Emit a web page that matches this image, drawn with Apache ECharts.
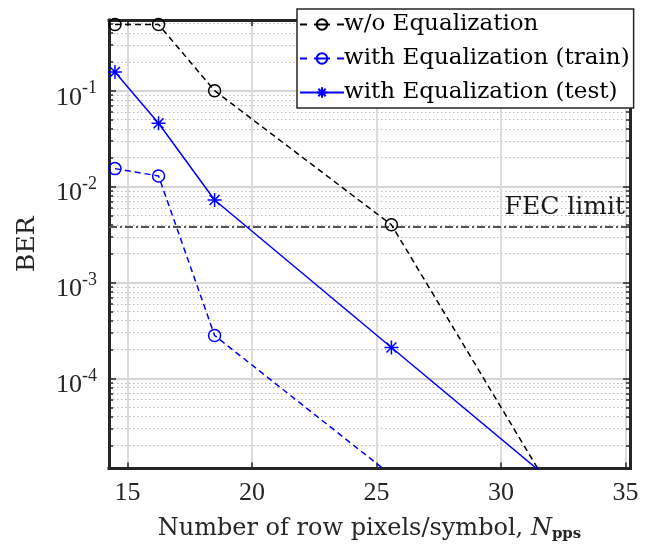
<!DOCTYPE html>
<html><head><meta charset="utf-8">
<script src="https://cdn.jsdelivr.net/npm/echarts@6/dist/echarts.min.js"></script>
<style>html,body{margin:0;padding:0;background:#fff}#c{width:647px;height:545px}</style>
</head><body><div id="c"></div>
<script>
// ---- data ----
const xValues = [14.5, 16.25, 18.5, 25.6, 32.7];
const berNoEq = [0.49, 0.49, 0.1, 0.004, 3.4e-6];
const berEqTrain = [0.0154, 0.0129, 2.8e-4, 9.8e-6, null];
const berEqTest = [0.157, 0.0457, 0.00725, 2.1e-4, 6.1e-6];
const fecLimit = 3.8e-3;
const fecLabel = 'FEC limit';
const seriesNames = ['w/o Equalization', 'with Equalization (train)', 'with Equalization (test)'];
const xTicks = [15, 20, 25, 30, 35];
const yMajorTicks = [1e-4, 1e-3, 1e-2, 1e-1];
const yMinorTicks = [];
for (let d = -5; d <= -1; d++) for (let k = 2; k <= 9; k++) {
  const v = k * Math.pow(10, d);
  if (v > 1.15e-5 && v < 0.546) yMinorTicks.push(v);
}
const xRange = [14.26, 35.18];
const yRange = [1.15e-5, 0.546];

const serif = 'Liberation Serif';
const wordFont = 'DejaVu Serif';
const txt = '#262626';
const pairs = arr => xValues.map((x, i) => [x, arr[i]]);
const star = 'path://M0,-10L0,10M-10,0L10,0M-7.07,-7.07L7.07,7.07M-7.07,7.07L7.07,-7.07';

function yAxisCfg(pos, ticks, len, showLabel, split) {
  return {
    type: 'log', position: pos, min: yRange[0], max: yRange[1], logBase: 10,
    axisLine: { show: false },
    axisTick: { show: true, inside: true, length: len, customValues: ticks, lineStyle: { color: txt, width: 1.5 } },
    axisLabel: showLabel ? {
      show: true, customValues: yMajorTicks, margin: 12, color: txt, fontFamily: serif, fontSize: 26,
      padding: [14, 0, 0, 0],
      formatter: v => '10{s|' + Math.round(Math.log10(v)) + '}',
      rich: { s: { fontSize: 18, fontFamily: serif, color: txt, padding: [0, 0, 18, 0] } }
    } : { show: false },
    splitLine: split || { show: false },
    minorTick: { show: false }
  };
}

const chart = echarts.init(document.getElementById('c'), null, { renderer: 'canvas' });
chart.setOption({
  animation: false,
  backgroundColor: '#fff',
  grid: { left: 109, right: 17, top: 20, bottom: 76.5, containLabel: false, outerBoundsMode: 'none' },
  xAxis: [
    {
      type: 'value', position: 'bottom', min: xRange[0], max: xRange[1],
      axisLine: { show: true, lineStyle: { color: txt, width: 3, cap: 'square' } },
      axisTick: { show: true, inside: true, length: 6, customValues: xTicks, lineStyle: { color: txt, width: 1.5 } },
      axisLabel: { customValues: xTicks, margin: 12, color: txt, fontFamily: serif, fontSize: 26 },
      splitLine: { show: true, lineStyle: { color: '#dcdcdc', width: 2 } },
      name: '{a|Number of row pixels/symbol, }{i|N}{b|pps}',
      nameLocation: 'middle', nameGap: 47,
      nameTextStyle: {
        rich: {
          a: { fontFamily: wordFont, fontSize: 24, color: txt },
          i: { fontFamily: wordFont, fontSize: 24, fontStyle: 'italic', color: txt },
          b: { fontFamily: wordFont, fontSize: 15, fontWeight: 'bold', color: txt, padding: [11, 0, 0, 0] }
        }
      }
    },
    {
      type: 'value', position: 'top', min: xRange[0], max: xRange[1],
      axisLine: { show: true, lineStyle: { color: txt, width: 3, cap: 'square' } },
      axisTick: { show: true, inside: true, length: 6, customValues: xTicks, lineStyle: { color: txt, width: 1.5 } },
      axisLabel: { show: false }, splitLine: { show: false }
    }
  ],
  yAxis: [
    Object.assign(yAxisCfg('left', yMajorTicks, 7, true, { show: true, lineStyle: { color: '#d4d4d4', width: 2 } }), {
      axisLine: { show: true, lineStyle: { color: txt, width: 3, cap: 'square' } },
      name: 'BER', nameLocation: 'middle', nameGap: 69, nameRotate: 90,
      nameTextStyle: { fontFamily: wordFont, fontSize: 25, color: txt }
    }),
    yAxisCfg('left', yMinorTicks, 4, false, { show: true, lineStyle: { color: '#b8b8b8', width: 1, type: [1.5, 2.5] } }),
    Object.assign(yAxisCfg('right', yMajorTicks, 7, false, null), {
      axisLine: { show: true, lineStyle: { color: txt, width: 3, cap: 'square' } }
    }),
    yAxisCfg('right', yMinorTicks, 4, false, null)
  ],
  legend: {
    orient: 'vertical', left: 297, top: 9,
    data: [
      { name: seriesNames[0], lineStyle: { type: [7, 7, 16, 7, 7] } },
      { name: seriesNames[1], lineStyle: { type: [7, 7, 16, 7, 7] } },
      { name: seriesNames[2] }
    ],
    itemWidth: 44, itemHeight: 13, itemGap: 11,
    padding: [4, 4, 4, 2],
    backgroundColor: '#fff', borderColor: txt, borderWidth: 1.5,
    textStyle: { fontFamily: wordFont, fontSize: 23, color: '#000', padding: [0, 0, 0, -5] }
  },
  series: [
    {
      name: seriesNames[0], type: 'line', data: pairs(berNoEq), xAxisIndex: 0, yAxisIndex: 0,
      symbol: 'circle', symbolSize: 12, z: 3,
      lineStyle: { color: '#000', width: 1.5, type: [6, 4] },
      itemStyle: { color: 'rgba(0,0,0,0)', borderColor: '#000', borderWidth: 1.5 }
    },
    {
      name: seriesNames[1], type: 'line', data: pairs(berEqTrain), xAxisIndex: 0, yAxisIndex: 0,
      symbol: 'circle', symbolSize: 12, z: 3,
      lineStyle: { color: '#0000ff', width: 1.5, type: [6, 4] },
      itemStyle: { color: 'rgba(0,0,0,0)', borderColor: '#0000ff', borderWidth: 1.5 }
    },
    {
      name: seriesNames[2], type: 'line', data: pairs(berEqTest), xAxisIndex: 0, yAxisIndex: 0,
      symbol: star, symbolSize: 14, z: 3,
      lineStyle: { color: '#0000ff', width: 1.5 },
      itemStyle: { color: 'rgba(0,0,0,0)', borderColor: '#0000ff', borderWidth: 1.5 }
    },
    {
      name: fecLabel, type: 'line', xAxisIndex: 0, yAxisIndex: 0, z: 2,
      data: [[xRange[0], fecLimit], [xRange[1], fecLimit]],
      symbol: 'none', silent: true,
      lineStyle: { color: '#555', width: 2, type: [8, 3, 2, 3] },
      endLabel: {
        show: true, formatter: fecLabel, align: 'right', verticalAlign: 'bottom', distance: 0,
        padding: [0, 5, 7, 0], fontFamily: wordFont, fontSize: 25, color: '#1a1a1a'
      }
    }
  ]
});
</script></body></html>
